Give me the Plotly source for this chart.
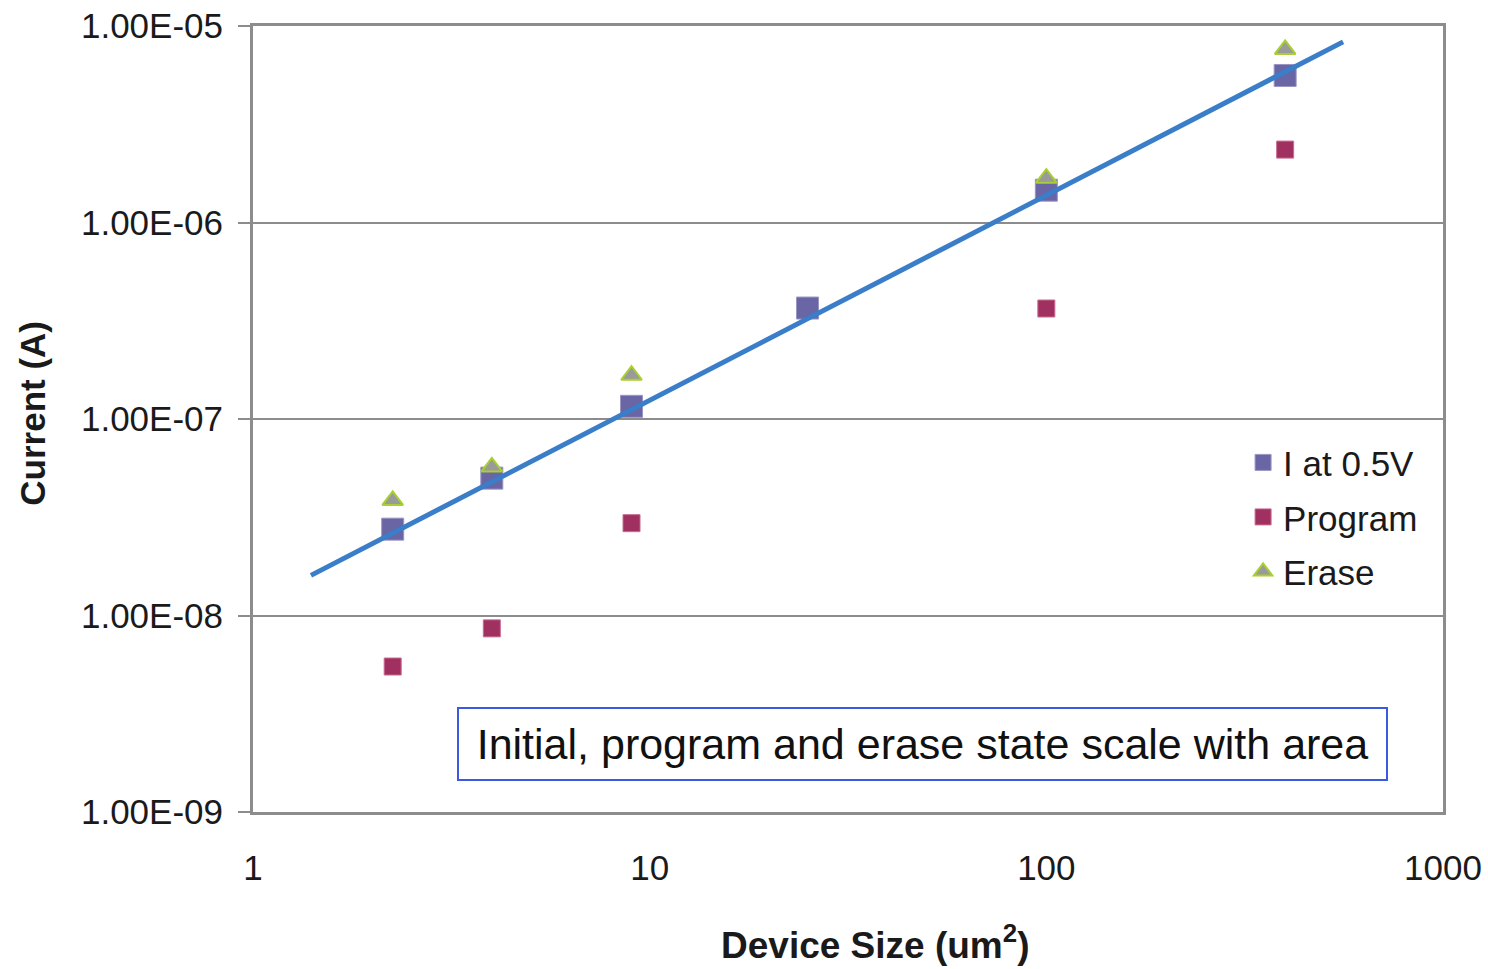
import plotly.graph_objects as go

# Device area (um^2) for each measured cell
device_size = [2.25, 4, 9, 25, 100, 400]

# Read current at 0.5 V (A)
i_05v = [2.75e-8, 5.0e-8, 1.16e-7, 3.67e-7, 1.46e-6, 5.6e-6]

# Program / erase state currents (A)
prog_size = [2.25, 4, 9, 100, 400]
program = [5.5e-9, 8.6e-9, 2.95e-8, 3.65e-7, 2.35e-6]
erase_size = [2.25, 4, 9, 100, 400]
erase = [3.85e-8, 5.7e-8, 1.67e-7, 1.68e-6, 7.6e-6]

# Power-law trend line end points
trend_x = [1.4, 560]
trend_y = [1.6e-8, 8.3e-6]

y_ticks = [1e-9, 1e-8, 1e-7, 1e-6, 1e-5]
y_tick_text = ["1.00E-09", "1.00E-08", "1.00E-07", "1.00E-06", "1.00E-05"]
x_ticks = [1, 10, 100, 1000]
x_tick_text = ["1", "10", "100", "1000"]

FONT = "Liberation Sans, Arial, sans-serif"
GRID = "#8c8c8c"

fig = go.Figure()

fig.add_trace(go.Scatter(
    x=device_size, y=i_05v, mode="markers", name="I at 0.5V",
    legendgroup="a",
    marker=dict(symbol="square", size=22, color="#6a65a4",
                line=dict(color="#9a96c4", width=1)),
))
fig.add_trace(go.Scatter(
    x=prog_size, y=program, mode="markers", name="Program",
    legendgroup="b",
    marker=dict(symbol="square", size=17, color="#a0305f",
                line=dict(color="#c86a92", width=1)),
))
fig.add_trace(go.Scatter(
    x=erase_size, y=erase, mode="markers", name="Erase",
    legendgroup="c",
    marker=dict(symbol="triangle-up", size=18, color="#9a9a9a",
                line=dict(color="#a8d030", width=2)),
))
# Trend line drawn over the markers
fig.add_trace(go.Scatter(
    x=trend_x, y=trend_y, mode="lines",
    line=dict(color="#3a7dc9", width=5),
    showlegend=False, hoverinfo="skip",
))

fig.update_layout(
    width=1488, height=969,
    margin=dict(l=253, r=45, t=26, b=157),
    paper_bgcolor="white", plot_bgcolor="white",
    font=dict(family=FONT, size=35, color="#1a1a1a"),
    legend=dict(
        x=0.832, xanchor="left", y=0.482, yanchor="top",
        bgcolor="rgba(0,0,0,0)", tracegroupgap=6,
        font=dict(size=35, color="#1a1a1a"),
    ),
    annotations=[
        dict(
            text="Initial, program and erase state scale with area",
            xref="paper", yref="paper", x=0.5626, y=0.0865,
            xanchor="center", yanchor="middle", showarrow=False,
            width=905, align="center",
            font=dict(family=FONT, size=43, color="#111111"),
            bordercolor="#3a5be0", borderwidth=2, borderpad=11,
            bgcolor="white",
        ),
        dict(
            text="<b>Device Size (um<sup>2</sup>)</b>",
            xref="paper", yref="paper", x=0.5227, y=-0.166,
            xanchor="center", yanchor="middle", showarrow=False,
            font=dict(family=FONT, size=37, color="#1a1a1a"),
        ),
        dict(
            text="<b>Current (A)</b>", textangle=-90,
            xref="paper", yref="paper", x=-0.1849, y=0.508,
            xanchor="center", yanchor="middle", showarrow=False,
            font=dict(family=FONT, size=35, color="#1a1a1a"),
        ),
    ],
)

fig.update_xaxes(
    type="log", range=[0, 3], automargin=False,
    tickvals=x_ticks, ticktext=x_tick_text,
    ticks="outside", ticklen=0, ticklabelstandoff=23,
    showgrid=False, zeroline=False,
    showline=True, linecolor=GRID, linewidth=3, mirror=True,
)
fig.update_yaxes(
    type="log", range=[-9, -5], automargin=False,
    tickvals=y_ticks, ticktext=y_tick_text,
    ticks="outside", ticklen=12, tickcolor=GRID, tickwidth=2,
    ticklabelstandoff=8,
    showgrid=True, gridcolor=GRID, gridwidth=2, zeroline=False,
    showline=True, linecolor=GRID, linewidth=3, mirror=True,
)

fig.write_html("out.html")
